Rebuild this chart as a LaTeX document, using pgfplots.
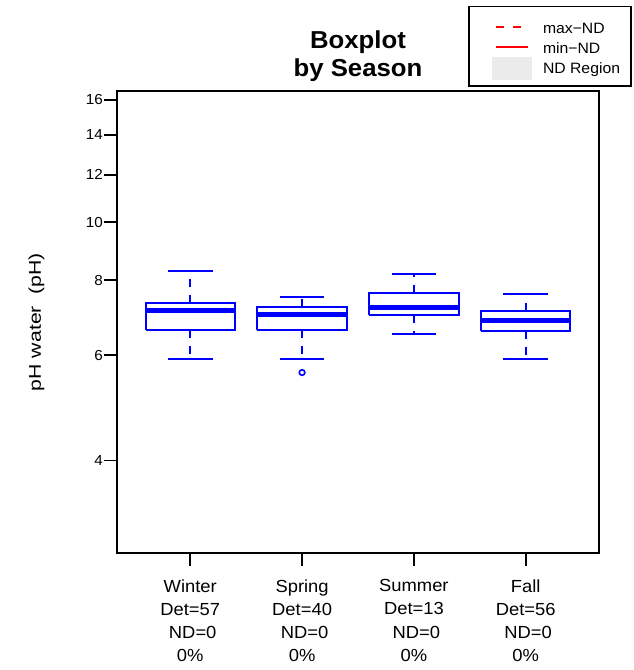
\documentclass[border=0pt]{standalone}
\usepackage{pgfplots}
\pgfplotsset{compat=1.18}
\usepackage{fontspec}
\setmainfont[FakeStretch=1.05]{Liberation Sans}
\newfontfamily\ylabfont[FakeStretch=1.25]{Liberation Sans}
\begin{document}
\begin{tikzpicture}
\useasboundingbox (0,0) rectangle (634pt,670pt);
\begin{axis}[
  at={(116.7pt,116.7pt)}, anchor=south west,
  scale only axis, width=482.6pt, height=462.6pt,
  xmin=0.342, xmax=4.658,
  ymode=log, ymin=2.80, ymax=16.58,
  axis line style={line width=1.8pt},
  tick style={black, line width=1.8pt},
  tick align=outside, tick pos=left, major tick length=12.7pt,
  minor tick num=0,
  xtick={1,2,3,4},
  xticklabels={{Winter\\Det=57\\\hspace*{0.28em}ND=0\\0\%},
               {Spring\\Det=40\\\hspace*{0.28em}ND=0\\0\%},
               {Summer\\Det=13\\\hspace*{0.28em}ND=0\\0\%},
               {Fall\\Det=56\\\hspace*{0.28em}ND=0\\0\%}},
  xticklabel style={font=\fontsize{17.5}{23.2}\selectfont, align=center, yshift=-10pt},
  ytick={4,6,8,10,12,14,16},
  yticklabels={4,6,8,10,12,14,16},
  yticklabel style={font=\fontsize{14.5}{17}\selectfont, inner xsep=1pt},
  ylabel={pH water\ \ (pH)},
  ylabel style={font=\ylabfont\fontsize{17}{21}\selectfont, at={(axis description cs:-0.157,0.5)}, anchor=base},
  legend style={at={(1,1)}, anchor=north east, xshift=32.4pt, yshift=84.7pt,
    draw=black, line width=1.3pt, fill=white,
    inner xsep=11pt, inner ysep=5.7pt, column sep=11pt, row sep=-3pt,
    nodes={inner sep=0pt, text height=21pt, text depth=2pt, font=\fontsize{15}{18}\selectfont}},
  legend cell align=left,
  whisk/.style={blue, line width=2pt, dash pattern=on 8pt off 8pt, forget plot},
  cap/.style={blue, line width=2pt, forget plot},
  bx/.style={blue, line width=2pt, forget plot},
  med/.style={blue, line width=5pt, forget plot},
]
% Winter
\addplot[whisk] coordinates {(1,7.32) (1,8.28)};
\addplot[whisk] coordinates {(1,6.61) (1,5.91)};
\addplot[cap] coordinates {(0.8,8.28) (1.2,8.28)};
\addplot[cap] coordinates {(0.8,5.91) (1.2,5.91)};
\addplot[bx] coordinates {(0.6,6.61) (1.4,6.61) (1.4,7.32) (0.6,7.32) (0.6,6.61)};
\addplot[med] coordinates {(0.6,7.12) (1.4,7.12)};
% Spring
\addplot[whisk] coordinates {(2,7.21) (2,7.51)};
\addplot[whisk] coordinates {(2,6.61) (2,5.91)};
\addplot[cap] coordinates {(1.8,7.51) (2.2,7.51)};
\addplot[cap] coordinates {(1.8,5.91) (2.2,5.91)};
\addplot[bx] coordinates {(1.6,6.61) (2.4,6.61) (2.4,7.21) (1.6,7.21) (1.6,6.61)};
\addplot[med] coordinates {(1.6,7.02) (2.4,7.02)};
\addplot[blue, only marks, mark=o, mark size=2.8pt, line width=1.6pt, forget plot] coordinates {(2,5.61)};
% Summer
\addplot[whisk] coordinates {(3,7.61) (3,8.20)};
\addplot[whisk] coordinates {(3,7.01) (3,6.51)};
\addplot[cap] coordinates {(2.8,8.20) (3.2,8.20)};
\addplot[cap] coordinates {(2.8,6.51) (3.2,6.51)};
\addplot[bx] coordinates {(2.6,7.01) (3.4,7.01) (3.4,7.61) (2.6,7.61) (2.6,7.01)};
\addplot[med] coordinates {(2.6,7.21) (3.4,7.21)};
% Fall
\addplot[whisk] coordinates {(4,7.10) (4,7.59)};
\addplot[whisk] coordinates {(4,6.59) (4,5.91)};
\addplot[cap] coordinates {(3.8,7.59) (4.2,7.59)};
\addplot[cap] coordinates {(3.8,5.91) (4.2,5.91)};
\addplot[bx] coordinates {(3.6,6.59) (4.4,6.59) (4.4,7.10) (3.6,7.10) (3.6,6.59)};
\addplot[med] coordinates {(3.6,6.86) (4.4,6.86)};
% legend
\addlegendimage{legend image code/.code={\path[draw=none,fill=none] (-12pt,-1pt) rectangle (40pt,1pt); \draw[draw=red, line width=1.4pt, dash pattern=on 8pt off 9pt] (4pt,-3pt) -- (36pt,-3pt);}}
\addlegendentry{max−ND}
\addlegendimage{legend image code/.code={\path[draw=none,fill=none] (-12pt,-1pt) rectangle (40pt,1pt); \draw[draw=red, line width=1.4pt] (4pt,-3pt) -- (36pt,-3pt);}}
\addlegendentry{min−ND}
\addlegendimage{legend image code/.code={\path[draw=none,fill=none] (-12pt,-1pt) rectangle (40pt,1pt); \fill[fill=black!8, draw=none] (0pt,-16.5pt) rectangle (40pt,6.8pt);}}
\addlegendentry{ND Region}
\end{axis}
\node[anchor=base, font=\fontsize{24.5}{30}\selectfont\bfseries] at (358pt,621.7pt) {Boxplot};
\node[anchor=base, font=\fontsize{24.5}{30}\selectfont\bfseries] at (358pt,593.3pt) {by Season};
\end{tikzpicture}
\end{document}
